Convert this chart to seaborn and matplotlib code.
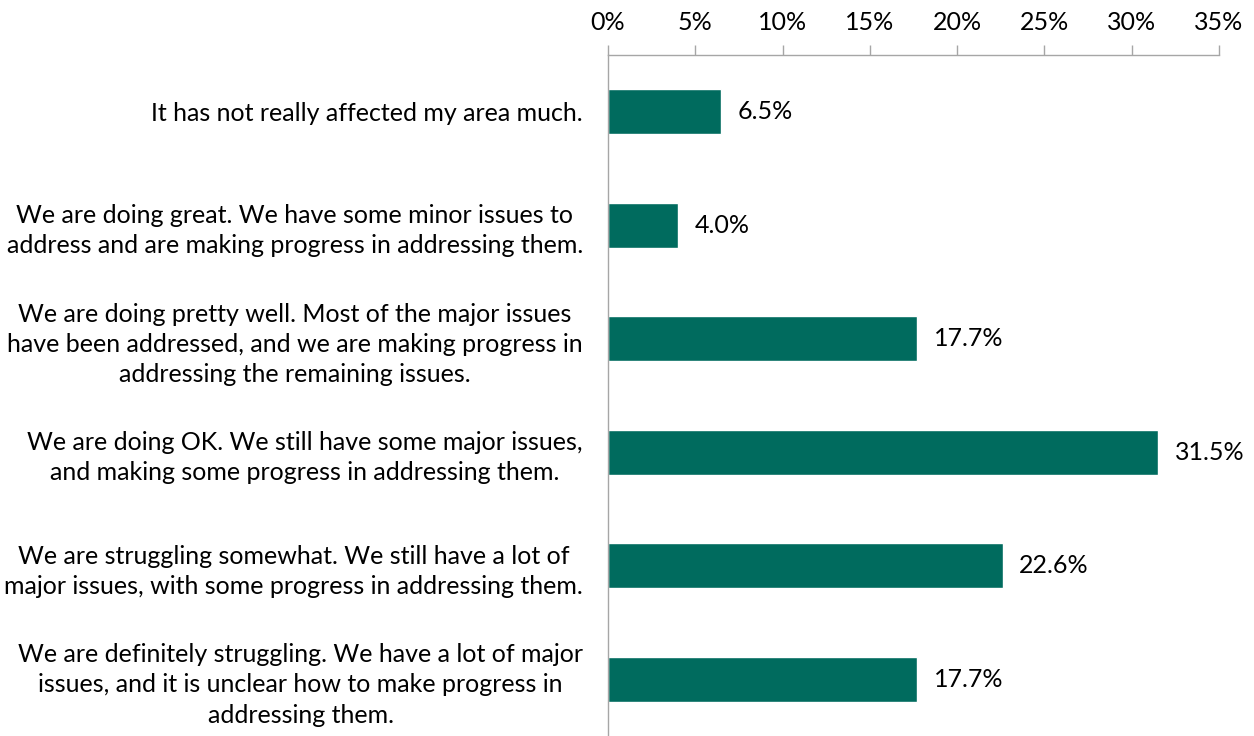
import matplotlib
matplotlib.use("Agg")
import matplotlib.pyplot as plt
import seaborn as sns
import pandas as pd
import numpy as np

categories = [
    "It has not really affected my area much.",
    "We are doing great. We have some minor issues to\naddress and are making progress in addressing them.",
    "We are doing pretty well. Most of the major issues\nhave been addressed, and we are making progress in\naddressing the remaining issues.",
    "We are doing OK. We still have some major issues,\nand making some progress in addressing them.",
    "We are struggling somewhat. We still have a lot of\nmajor issues, with some progress in addressing them.",
    "We are definitely struggling. We have a lot of major\nissues, and it is unclear how to make progress in\naddressing them.",
]
values = [6.5, 4.0, 17.7, 31.5, 22.6, 17.7]
xticks = [0, 5, 10, 15, 20, 25, 30, 35]
xtick_labels = ["0%", "5%", "10%", "15%", "20%", "25%", "30%", "35%"]

sns.set_theme(style="white")
plt.rcParams['font.family'] = ['Lato', 'DejaVu Sans']
FS = 18
BAR = "#006B5E"
GRAY = "#A6A6A6"

df = pd.DataFrame({"cat": categories, "val": values})

fig = plt.figure(figsize=(12.54, 7.36), dpi=100)
ax = fig.add_axes([608/1254, 0.0, (1219-608)/1254, 1 - 55/736])
sns.barplot(data=df, x="val", y="cat", orient="h", color=BAR, width=0.4,
            saturation=1, ax=ax, order=categories)

ax.set_xlim(0, 35)
ax.set_ylim(len(categories) - 0.5, -0.5)
ax.xaxis.tick_top()
ax.set_xticks(xticks)
ax.set_xticklabels(xtick_labels, fontsize=FS, color="#000000")
ax.tick_params(axis="x", which="major", direction="out", length=7, width=1,
               color=GRAY, pad=8, top=True, bottom=False)
ax.set_xlabel("")
ax.set_ylabel("")

ax.set_yticks(range(len(categories)))
ax.set_yticklabels(categories, fontsize=FS, color="#000000", multialignment="center",
                   linespacing=1.38)
ax.tick_params(axis="y", which="major", length=0, pad=18)
ax.set_yticks(np.arange(-0.5, len(categories) + 0.5, 1.0), minor=True)
ax.tick_params(axis="y", which="minor", direction="out", length=6, width=1, color=GRAY)

for s in ["right", "bottom"]:
    ax.spines[s].set_visible(False)
for s in ["top", "left"]:
    ax.spines[s].set_color(GRAY)
    ax.spines[s].set_linewidth(1)

for i, v in enumerate(values):
    ax.text(v + 0.95, i, f"{v:.1f}%", va="center", ha="left", fontsize=FS, color="#000000")

fig.savefig("out.png", dpi=100)
